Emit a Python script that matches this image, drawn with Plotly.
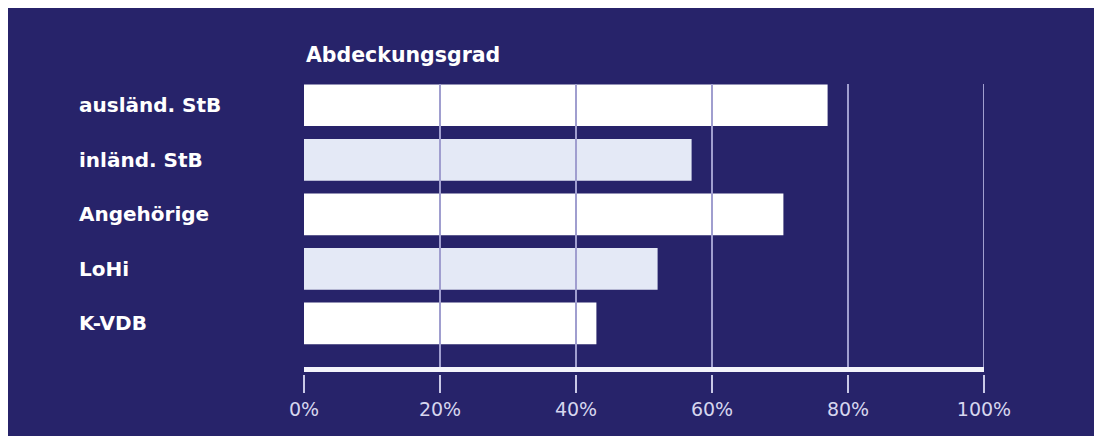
import plotly.graph_objects as go

categories = ["ausländ. StB", "inländ. StB", "Angehörige", "LoHi", "K-VDB"]
values = [77, 57, 70.5, 52, 43]
bar_colors = ["#ffffff", "#e4e9f6", "#ffffff", "#e4e9f6", "#ffffff"]
tick_vals = [0, 20, 40, 60, 80, 100]
tick_text = ["0%", "20%", "40%", "60%", "80%", "100%"]
grid_vals = [20, 40, 60, 80, 100]
title_text = "Abdeckungsgrad"

NAVY = "#27236a"
W, H = 1094, 436
ML, MR, MT, MB = 304, 110, 84, 69
PW = W - ML - MR
PH = H - MT - MB
EDGE = 8  # white frame at top/left

fig = go.Figure()
fig.add_trace(go.Bar(
    x=values, y=categories, orientation="h",
    marker=dict(color=bar_colors, line=dict(width=0)),
    hoverinfo="skip",
))

shapes = []
# white frame strips (top and left)
shapes.append(dict(type="rect", xref="paper", yref="paper",
                   x0=-ML / PW - 0.01, x1=(W - ML) / PW + 0.01,
                   y0=1 + (MT - EDGE) / PH, y1=1 + MT / PH + 0.01,
                   fillcolor="#ffffff", line=dict(width=0), layer="above"))
shapes.append(dict(type="rect", xref="paper", yref="paper",
                   x0=-ML / PW - 0.01, x1=-(ML - EDGE) / PW,
                   y0=-MB / PH - 0.01, y1=1 + MT / PH + 0.01,
                   fillcolor="#ffffff", line=dict(width=0), layer="above"))
# gridlines above bars
for g in grid_vals:
    shapes.append(dict(type="line", xref="x", yref="paper", x0=g, x1=g,
                       y0=0, y1=1, line=dict(color="#a09ecf", width=2),
                       layer="above"))
# white baseline
shapes.append(dict(type="line", xref="paper", yref="paper", x0=0, x1=1,
                   y0=-2.5 / PH, y1=-2.5 / PH,
                   line=dict(color="#f4f4fb", width=5), layer="above"))

annotations = []
annotations.append(dict(text="<b>" + title_text + "</b>", xref="paper", yref="paper",
                        x=0, y=1 + 29 / PH, xanchor="left", yanchor="middle",
                        showarrow=False,
                        font=dict(family="DejaVu Sans", size=20.5, color="#ffffff")))
for c in categories:
    annotations.append(dict(text="<b>" + c + "</b>", xref="paper", yref="y",
                            x=(77 - ML) / PW, y=c, xanchor="left", yanchor="middle",
                            showarrow=False,
                            font=dict(family="DejaVu Sans", size=20, color="#ffffff")))

fig.update_layout(
    width=W, height=H,
    margin=dict(l=ML, r=MR, t=MT, b=MB, pad=0),
    paper_bgcolor=NAVY, plot_bgcolor=NAVY,
    bargap=0.235,
    showlegend=False,
    shapes=shapes,
    annotations=annotations,
    xaxis=dict(range=[0, 100], tickvals=tick_vals, ticktext=tick_text,
               showgrid=False, zeroline=False,
               showline=True, linecolor=NAVY, linewidth=8,
               ticks="outside", ticklen=18, tickwidth=2, tickcolor="#c9c8e6",
               tickfont=dict(family="DejaVu Sans", size=19, color="#d6d6ee"),
               fixedrange=True),
    yaxis=dict(categoryorder="array", categoryarray=categories,
               range=[4.80, -0.39], showticklabels=False,
               showgrid=False, zeroline=False, showline=False, ticks="",
               fixedrange=True),
)

fig.write_html(
    "out.html",
    config={"displayModeBar": False},
    post_script="document.body.style.margin='0';document.body.style.overflow='hidden';",
)
